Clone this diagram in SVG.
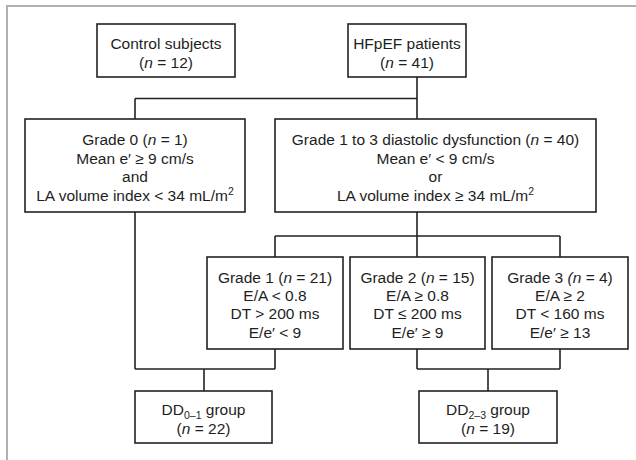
<svg xmlns="http://www.w3.org/2000/svg" width="636" height="460" viewBox="0 0 636 460">
<style>
.box{fill:#fff;stroke:#222;stroke-width:1.6}
.ln{fill:none;stroke:#222;stroke-width:1.6}
.frame{fill:none;stroke:#b0b0b0;stroke-width:2}
text{font-family:"Liberation Sans",Arial,sans-serif;font-size:15.5px;fill:#1e1e1e;text-anchor:middle}
.i{font-style:italic}
</style>
<rect width="636" height="460" fill="#fff"/>
<path class="frame" d="M7,460 V6 H636"/>
<g id="connectors">
<path class="ln" d="M417,77 V98.5 M135,98.5 H417 M135,98.5 V119 M417,98.5 V119"/>
<path class="ln" d="M417,212 V236 M275,236 H560 M275,236 V257 M417,236 V257 M560,236 V257"/>
<path class="ln" d="M135,212 V369 M275,349 V369 M135,369 H275 M204,369 V391"/>
<path class="ln" d="M417,349 V369 M560,349 V369 M417,369 H560 M488,369 V391"/>
</g>
<g id="control">
<rect class="box" x="97" y="24" width="138" height="53"/>
<text x="166" y="48.5">Control subjects</text>
<text x="166" y="67.5">(<tspan class="i">n</tspan> = 12)</text>
</g>
<g id="hfpef">
<rect class="box" x="348" y="24" width="118" height="53"/>
<text x="407" y="48.5">HFpEF patients</text>
<text x="407" y="67.5">(<tspan class="i">n</tspan> = 41)</text>
</g>
<g id="grade0">
<rect class="box" x="25" y="119" width="220" height="93"/>
<text x="135" y="145">Grade 0 (<tspan class="i">n</tspan> = 1)</text>
<text x="135" y="163.7">Mean e′ ≥ 9 cm/s</text>
<text x="135" y="182.4">and</text>
<text x="135" y="201">LA volume index &lt; 34 mL/m<tspan font-size="10.5" dy="-6">2</tspan></text>
</g>
<g id="grade1to3">
<rect class="box" x="275" y="119" width="321" height="93"/>
<text x="435.5" y="145">Grade 1 to 3 diastolic dysfunction (<tspan class="i">n</tspan> = 40)</text>
<text x="435.5" y="163.7">Mean e′ &lt; 9 cm/s</text>
<text x="435.5" y="182.4">or</text>
<text x="435.5" y="201">LA volume index ≥ 34 mL/m<tspan font-size="10.5" dy="-6">2</tspan></text>
</g>
<g id="grade1">
<rect class="box" x="207" y="257" width="136" height="92"/>
<text x="275" y="282.5">Grade 1 (<tspan class="i">n</tspan> = 21)</text>
<text x="275" y="300.8">E/A &lt; 0.8</text>
<text x="275" y="319">DT &gt; 200 ms</text>
<text x="275" y="337.5">E/e′ &lt; 9</text>
</g>
<g id="grade2">
<rect class="box" x="350" y="257" width="135" height="92"/>
<text x="417.5" y="282.5">Grade 2 (<tspan class="i">n</tspan> = 15)</text>
<text x="417.5" y="300.8">E/A ≥ 0.8</text>
<text x="417.5" y="319">DT ≤ 200 ms</text>
<text x="417.5" y="337.5">E/e′ ≥ 9</text>
</g>
<g id="grade3">
<rect class="box" x="492" y="257" width="136" height="92"/>
<text x="560" y="282.5">Grade 3 <tspan class="i">(n</tspan> = 4)</text>
<text x="560" y="300.8">E/A ≥ 2</text>
<text x="560" y="319">DT &lt; 160 ms</text>
<text x="560" y="337.5">E/e′ ≥ 13</text>
</g>
<g id="dd01">
<rect class="box" x="135" y="391" width="137" height="52"/>
<text x="203.5" y="415">DD<tspan font-size="10.5" dy="4">0–1</tspan><tspan dy="-4"> group</tspan></text>
<text x="203.5" y="433.5">(<tspan class="i">n</tspan> = 22)</text>
</g>
<g id="dd23">
<rect class="box" x="419" y="391" width="138" height="52"/>
<text x="488" y="415">DD<tspan font-size="10.5" dy="4">2–3</tspan><tspan dy="-4"> group</tspan></text>
<text x="488" y="433.5">(<tspan class="i">n</tspan> = 19)</text>
</g>
</svg>
